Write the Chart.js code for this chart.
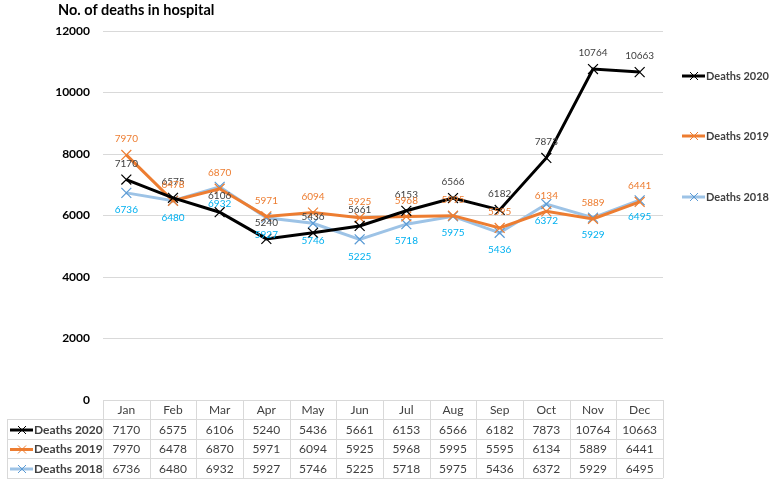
<!DOCTYPE html>
<html>
<head>
<meta charset="utf-8">
<script src="https://cdn.jsdelivr.net/npm/chart.js@4"></script>
<style>
  html, body { margin: 0; padding: 0; background: #fff; }
  #wrap { width: 776px; height: 489px; }
</style>
</head>
<body>
<div id="wrap"><canvas id="chart" width="776" height="489"></canvas></div>
<script>
const months = ["Jan", "Feb", "Mar", "Apr", "May", "Jun", "Jul", "Aug", "Sep", "Oct", "Nov", "Dec"];
const deaths2020 = [7170, 6575, 6106, 5240, 5436, 5661, 6153, 6566, 6182, 7873, 10764, 10663];
const deaths2019 = [7970, 6478, 6870, 5971, 6094, 5925, 5968, 5995, 5595, 6134, 5889, 6441];
const deaths2018 = [6736, 6480, 6932, 5927, 5746, 5225, 5718, 5975, 5436, 6372, 5929, 6495];
const seriesNames = ["Deaths 2020", "Deaths 2019", "Deaths 2018"];
const yTicks = [0, 2000, 4000, 6000, 8000, 10000, 12000];

const FONT = "Lato, 'Open Sans', sans-serif";
const lineColors = ["#000000", "#ED7D31", "#9DC3E6"];
const markColors = ["#000000", "#ED7D31", "#5B9BD5"];
const labelColors = ["#404040", "#ED7D31", "#00B0F0"];

// draw a little line+marker key
function key(ctx, x, y, i) {
    ctx.save();
    ctx.strokeStyle = lineColors[i];
    ctx.lineWidth = 3;
    ctx.beginPath();
    ctx.moveTo(x, y);
    ctx.lineTo(x + 23, y);
    ctx.stroke();
    ctx.strokeStyle = markColors[i];
    ctx.lineWidth = 1;
    ctx.beginPath();
    ctx.moveTo(x + 8, y - 4); ctx.lineTo(x + 16, y + 4);
    ctx.moveTo(x + 16, y - 4); ctx.lineTo(x + 8, y + 4);
    ctx.stroke();
    ctx.restore();
}

const extras = {
    id: "extras",
    afterDatasetsDraw(chart) {
        const {ctx, chartArea} = chart;
        const xs = chart.scales.x;
        ctx.save();

        // title
        ctx.fillStyle = "#000";
        ctx.font = "bold 14.5px " + FONT;
        ctx.textAlign = "left";
        ctx.textBaseline = "middle";
        ctx.fillText("No. of deaths in hospital", 58, 10);

        // data labels
        ctx.font = "10px " + FONT;
        ctx.textAlign = "center";
        chart.data.datasets.forEach((ds, i) => {
            const meta = chart.getDatasetMeta(i);
            ctx.fillStyle = labelColors[i];
            meta.data.forEach((pt, j) => {
                const dy = i === 2 ? 17 : -16;
                ctx.fillText(String(ds.data[j]), pt.x, pt.y + dy);
            });
        });

        // right legend
        ctx.font = "bold 11px " + FONT;
        ctx.textAlign = "left";
        ctx.fillStyle = "#404040";
        [76, 136, 197].forEach((y, i) => {
            key(ctx, 682, y, i);
            ctx.fillText(seriesNames[i], 706, y);
        });

        // data table
        const left = chartArea.left, right = chartArea.right;
        const step = (right - left) / months.length;
        const rows = [400, 419, 439, 458, 478];
        ctx.strokeStyle = "#D9D9D9";
        ctx.lineWidth = 1;
        ctx.beginPath();
        for (let r = 1; r < rows.length; r++) {
            ctx.moveTo(7, rows[r] + 0.5);
            ctx.lineTo(right, rows[r] + 0.5);
        }
        for (let c = 0; c <= months.length; c++) {
            const x = Math.round(left + c * step) + 0.5;
            ctx.moveTo(x, rows[0]);
            ctx.lineTo(x, rows[4]);
        }
        ctx.moveTo(7.5, rows[1]);
        ctx.lineTo(7.5, rows[4]);
        ctx.stroke();

        ctx.font = "12px " + FONT;
        ctx.textAlign = "center";
        ctx.fillStyle = "#404040";
        months.forEach((m, j) => {
            const x = xs.getPixelForValue(j);
            ctx.fillText(m, x, (rows[0] + rows[1]) / 2 + 1);
            chart.data.datasets.forEach((ds, i) => {
                ctx.fillText(String(ds.data[j]), x, (rows[i + 1] + rows[i + 2]) / 2 + 1);
            });
        });
        ctx.textAlign = "left";
        ctx.font = "bold 12px " + FONT;
        seriesNames.forEach((n, i) => {
            const y = (rows[i + 1] + rows[i + 2]) / 2 + 1;
            key(ctx, 10, y, i);
            ctx.fillText(n, 34, y);
        });
        ctx.restore();
    }
};

function dataset(label, data, i) {
    return {
        label, data,
        borderColor: lineColors[i],
        backgroundColor: lineColors[i],
        borderWidth: 3,
        pointStyle: "crossRot",
        pointRadius: 7,
        pointBorderColor: markColors[i],
        pointBorderWidth: 1.2,
        tension: 0
    };
}

new Chart(document.getElementById("chart"), {
    type: "line",
    data: {
        labels: months,
        datasets: [
            dataset(seriesNames[0], deaths2020, 0),
            dataset(seriesNames[1], deaths2019, 1),
            dataset(seriesNames[2], deaths2018, 2)
        ]
    },
    options: {
        responsive: false,
        animation: false,
        events: [],
        layout: {padding: {left: 0, top: 31, right: 113, bottom: 89}},
        plugins: {legend: {display: false}, tooltip: {enabled: false}, title: {display: false}},
        scales: {
            x: {
                display: false,
                offset: true
            },
            y: {
                min: 0, max: 12000,
                afterFit(s) { s.width = 103; },
                afterBuildTicks(s) { s.ticks = yTicks.map(v => ({value: v})); },
                border: {display: false},
                grid: {color: "#D9D9D9", drawTicks: false},
                ticks: {
                    color: "#000",
                    padding: 13,
                    font: {family: FONT, size: 12, weight: "bold"},
                    callback: v => String(v)
                }
            }
        }
    },
    plugins: [extras]
});
</script>
</body>
</html>
